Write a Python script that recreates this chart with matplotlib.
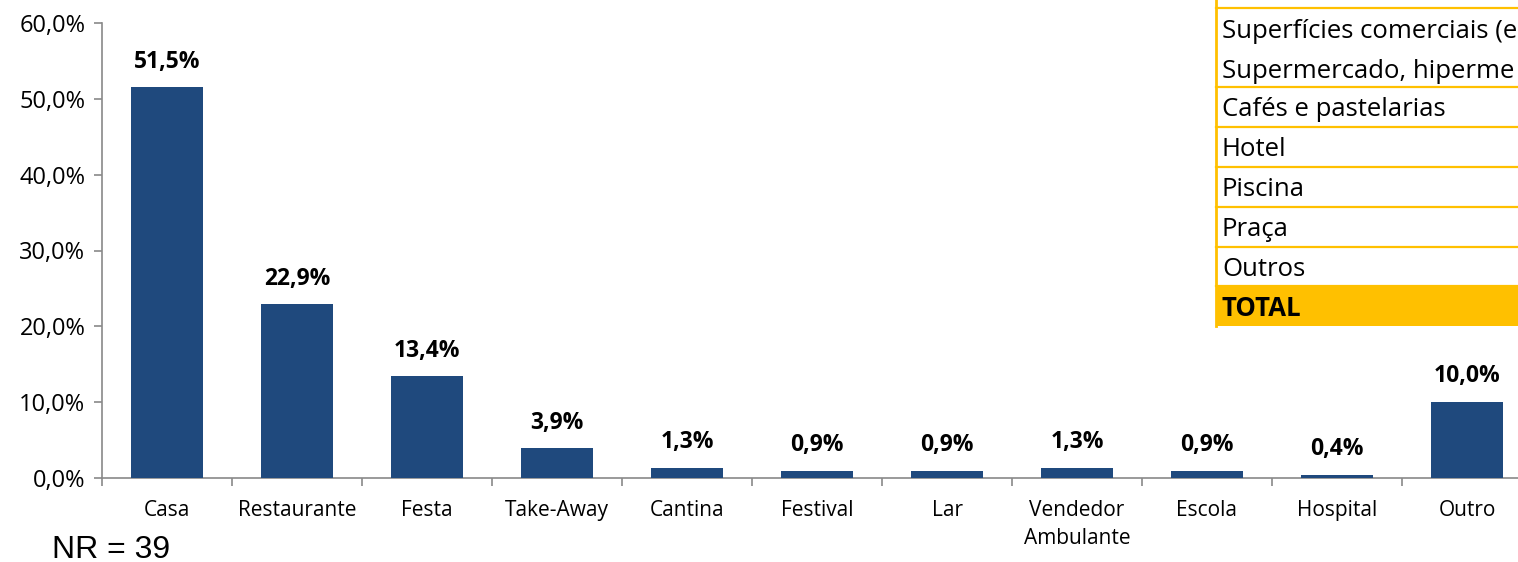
#!/usr/bin/env python

# Bar chart of places of consumption, with the spreadsheet table peeking in at top right.

import matplotlib
matplotlib.use('Agg')
import matplotlib.pyplot as plt
from matplotlib.lines import Line2D
from matplotlib.patches import Rectangle
import numpy

categories = ['Casa', 'Restaurante', 'Festa', 'Take-Away', 'Cantina', 'Festival',
              'Lar', 'Vendedor\nAmbulante', 'Escola', 'Hospital', 'Outro']
values = [51.5, 22.9, 13.4, 3.9, 1.3, 0.9, 0.9, 1.3, 0.9, 0.4, 10.0]
yticks = [0, 10, 20, 30, 40, 50, 60]
# rows as far as they are visible at the right edge
table_rows = ['Superfícies comerciais (e', 'Supermercado, hiperme',
              'Cafés e pastelarias', 'Hotel', 'Piscina', 'Praça', 'Outros', 'TOTAL']
note = 'NR = 39'

W, H = 1518, 562
bar_col = '#1F497D'
axis_col = '#898989'
orange = '#FFC000'
body_font = ['Open Sans', 'DejaVu Sans']

fig = plt.figure(figsize=(W/100, H/100), dpi=100)

# axes in pixel terms: y axis at x=102, zero at y=478, 60% at y=23, 130 px per category
x0, y0, ytop, step = 102, 478, 23, 130
ax = fig.add_axes([x0/W, 1-y0/H, len(categories)*step/W, (y0-ytop)/H])

x = numpy.arange(len(categories))
ax.bar(x, values, width=0.55, color=bar_col, zorder=3)
ax.set_xlim(-0.5, len(categories)-0.5)
ax.set_ylim(0, 60)

for xi, v in zip(x, values):
    ax.annotate(('%.1f%%' % v).replace('.', ','), (xi, v), xytext=(0, 18.5),
                textcoords='offset points', ha='center', va='center',
                fontsize=16.5, fontweight='bold', family=body_font)

ax.set_yticks(yticks)
ax.set_yticklabels([('%.1f%%' % t).replace('.', ',') for t in yticks],
                   fontsize=17, family=body_font)
ax.set_xticks(x)
ax.set_xticklabels(categories, fontsize=15, family=body_font, linespacing=1.45)
ax.set_xticks(numpy.arange(len(categories)+1)-0.5, minor=True)
ax.tick_params(axis='x', which='major', length=0, pad=16)
ax.tick_params(axis='x', which='minor', length=6, color=axis_col, width=1.2)
ax.tick_params(axis='y', length=6, color=axis_col, width=1.2, pad=6)
for s in ['top', 'right']:
    ax.spines[s].set_visible(False)
for s in ['left', 'bottom']:
    ax.spines[s].set_color(axis_col)
    ax.spines[s].set_linewidth(1.2)

fig.text(52/W, 1-550/H, note, fontsize=23, family=['Liberation Sans', 'DejaVu Sans'],
         va='center', ha='left')

# the table cells poking into the chart
tx = 1216
row_lines = [8, 87, 127, 167, 207, 247, 286]
text_y = [31, 71, 110, 150, 190, 230, 270, 309]
fig.add_artist(Rectangle((tx/W, 1-326/H), (W-tx)/W, 326/H, transform=fig.transFigure,
                         facecolor='white', edgecolor='none', zorder=5))
fig.add_artist(Rectangle((tx/W, 1-326/H), (W-tx)/W, 40/H, transform=fig.transFigure,
                         facecolor=orange, edgecolor='none', zorder=6))
for ly in row_lines:
    fig.add_artist(Line2D([tx/W, 1], [1-ly/H, 1-ly/H], color=orange, lw=1.6, zorder=7))
fig.add_artist(Line2D([tx/W, tx/W], [1, 1-326/H], color=orange, lw=2, zorder=7))
for row, ty in zip(table_rows, text_y):
    fig.text((tx+6)/W, 1-ty/H, row, fontsize=18.5, family=body_font, va='center', ha='left',
             fontweight='bold' if row == 'TOTAL' else 'normal', zorder=8)

fig.savefig('out.png', dpi=100)
